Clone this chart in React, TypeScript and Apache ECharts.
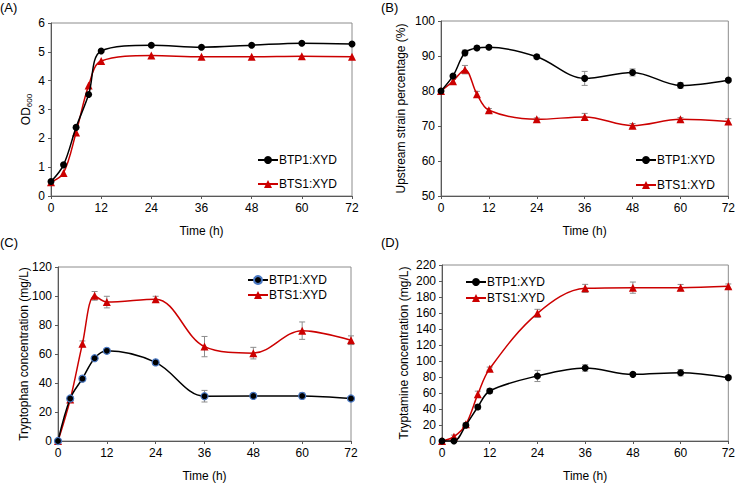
import React, { useEffect, useRef } from "react";
import * as echarts from "echarts";

const times = [0, 3, 6, 9, 12, 24, 36, 48, 60, 72];
const xTicks = [0, 12, 24, 36, 48, 60, 72];

// (A) OD600
const odBTP1 = [0.5, 1.08, 2.38, 3.52, 5.03, 5.23, 5.16, 5.23, 5.3, 5.27];
const odBTS1 = [0.48, 0.8, 2.2, 3.83, 4.68, 4.87, 4.83, 4.83, 4.85, 4.83];
const odBTP1Err = [0, 0, 0, 0, 0, 0, 0, 0, 0, 0];
const odBTS1Err = [0, 0, 0, 0, 0, 0, 0, 0, 0, 0];

// (B) Upstream strain percentage
const upBTP1 = [80, 84.3, 90.9, 92.3, 92.5, 89.8, 83.6, 85.3, 81.6, 83.1];
const upBTS1 = [80, 82.8, 86.1, 79.1, 74.5, 71.9, 72.6, 70.1, 71.9, 71.3];
const upBTP1Err = [0, 0, 0.8, 0.6, 0.5, 0.6, 2.0, 1.0, 0.8, 0.5];
const upBTS1Err = [0, 0.6, 1.2, 0.8, 0.5, 0.4, 1.0, 0.6, 0.5, 0.8];

// (C) Tryptophan concentration
const trpBTP1 = [0, 29.3, 43, 57.1, 62.2, 54.2, 30.9, 31.1, 31.1, 29.3];
const trpBTS1 = [0, 28.6, 67, 100.1, 95.8, 97.8, 65.1, 60.6, 76.1, 69.5];
const trpBTP1Err = [0, 1, 1.5, 1, 1.5, 1, 4, 1, 2, 1];
const trpBTS1Err = [0, 2, 2, 3, 4, 2, 7, 4, 6, 3];

// (D) Tryptamine concentration
const tamBTP1 = [0, 0, 19.6, 42.5, 62.5, 81.3, 91.3, 83.3, 85.4, 79.2];
const tamBTS1 = [0, 5.4, 20.8, 58.3, 90.4, 159.6, 190.8, 191.7, 191.7, 193.3];
const tamBTP1Err = [0, 0, 2, 3, 3, 7, 4, 2, 4, 2];
const tamBTS1Err = [0, 2, 2, 4, 2, 5, 5, 7, 4, 3];

const seriesNames = ["BTP1:XYD", "BTS1:XYD"];
const panelLabels = ["(A)", "(B)", "(C)", "(D)"];
const xAxisName = "Time (h)";

const FONT = "'Liberation Sans', Arial, sans-serif";
const BLACK = "#000000";
const RED = "#cc0000";

export default function App() {
  const ref = useRef<HTMLDivElement>(null);

  useEffect(() => {
    if (!ref.current) return;
    const chart = echarts.init(ref.current, undefined, { renderer: "svg" });

    const grids = [
      { left: 51, top: 23, width: 301, height: 173 },
      { left: 441, top: 21, width: 289, height: 175 },
      { left: 58, top: 267, width: 293, height: 175 },
      { left: 442, top: 265, width: 289, height: 176 },
    ];

    const yCfg = [
      { min: 0, max: 6, interval: 1, name: "{a|OD}{s|600}", gap: 18 },
      { min: 50, max: 100, interval: 10, name: "Upstream strain percentage (%)", gap: 34 },
      { min: 0, max: 120, interval: 20, name: "Tryptophan concentration (mg/L)", gap: 28 },
      { min: 0, max: 220, interval: 20, name: "Tryptamine concentration (mg/L)", gap: 32 },
    ];

    const panels = [
      [odBTP1, odBTS1, odBTP1Err, odBTS1Err],
      [upBTP1, upBTS1, upBTP1Err, upBTS1Err],
      [trpBTP1, trpBTS1, trpBTP1Err, trpBTS1Err],
      [tamBTP1, tamBTS1, tamBTP1Err, tamBTS1Err],
    ];

    const legendPos = [
      { left: 252, top: 149, gap: 12 },
      { left: 630, top: 149, gap: 13 },
      { left: 242, top: 269, gap: 3 },
      { left: 460, top: 271, gap: 4 },
    ];

    const series: any[] = [];
    const legends: any[] = [];
    panels.forEach((p, i) => {
      const [a, b, ea, eb] = p as number[][];
      const suffix = "#" + i;
      const errData = (vals: number[], errs: number[]) =>
        times
          .map((t, k) => [t, vals[k] - errs[k], vals[k] + errs[k], errs[k]])
          .filter((d) => d[3] > 0);
      const errSeries = (vals: number[], errs: number[]) => ({
        type: "custom",
        xAxisIndex: i,
        yAxisIndex: i,
        silent: true,
        z: 1,
        data: errData(vals, errs),
        renderItem: (params: any, api: any) => {
          const x = api.value(0);
          const lo = api.coord([x, api.value(1)]);
          const hi = api.coord([x, api.value(2)]);
          const w = 3;
          const st = { stroke: "#8c8c8c", lineWidth: 1, fill: "none" };
          return {
            type: "group",
            children: [
              { type: "line", shape: { x1: lo[0], y1: lo[1], x2: hi[0], y2: hi[1] }, style: st },
              { type: "line", shape: { x1: lo[0] - w, y1: lo[1], x2: lo[0] + w, y2: lo[1] }, style: st },
              { type: "line", shape: { x1: hi[0] - w, y1: hi[1], x2: hi[0] + w, y2: hi[1] }, style: st },
            ],
          };
        },
      });
      series.push(errSeries(a, ea));
      series.push(errSeries(b, eb));
      series.push({
        name: seriesNames[0] + suffix,
        type: "line",
        xAxisIndex: i,
        yAxisIndex: i,
        smooth: 0.35,
        z: 3,
        symbol: "circle",
        symbolSize: 7,
        data: times.map((t, k) => [t, a[k]]),
        lineStyle: { color: BLACK, width: 1.5 },
        itemStyle: {
          color: BLACK,
          borderColor: i === 2 ? "#4a78c2" : BLACK,
          borderWidth: i === 2 ? 1.2 : 0,
        },
      });
      series.push({
        name: seriesNames[1] + suffix,
        type: "line",
        xAxisIndex: i,
        yAxisIndex: i,
        smooth: 0.35,
        z: 2,
        symbol: "triangle",
        symbolSize: 8,
        data: times.map((t, k) => [t, b[k]]),
        lineStyle: { color: RED, width: 1.5 },
        itemStyle: { color: RED, borderWidth: 0 },
      });
      legends.push({
        orient: "vertical",
        left: legendPos[i].left,
        top: legendPos[i].top,
        itemGap: legendPos[i].gap,
        itemWidth: 20,
        itemHeight: 10,
        selectedMode: false,
        data: [seriesNames[0] + suffix, seriesNames[1] + suffix],
        formatter: (n: string) => n.split("#")[0],
        textStyle: { fontFamily: FONT, fontSize: 12, color: BLACK, padding: [0, 0, 0, -4] },
      });
    });

    const option: any = {
      animation: false,
      backgroundColor: "#ffffff",
      textStyle: { fontFamily: FONT },
      grid: grids.map((g) => ({
        ...g,
        show: true,
        borderColor: "#8c8c8c",
        borderWidth: 1,
        backgroundColor: "transparent",
        containLabel: false,
      })),
      xAxis: grids.map((_, i) => ({
        type: "value",
        gridIndex: i,
        min: 0,
        max: 72,
        interval: 12,
        name: xAxisName,
        nameLocation: "middle",
        nameGap: 29,
        nameMoveOverlap: false,
        nameTextStyle: { fontFamily: FONT, fontSize: 12, fontWeight: "normal", color: BLACK },
        axisLine: { show: true, lineStyle: { color: "#595959", width: 1 } },
        axisTick: { show: true, inside: false, length: 3, lineStyle: { color: "#595959" } },
        axisLabel: {
          fontFamily: FONT,
          fontSize: 12,
          color: BLACK,
          margin: 6,
          customValues: xTicks,
        },
        splitLine: { show: false },
      })),
      yAxis: yCfg.map((y, i) => ({
        type: "value",
        gridIndex: i,
        min: y.min,
        max: y.max,
        interval: y.interval,
        name: y.name,
        nameLocation: "middle",
        nameGap: y.gap,
        nameMoveOverlap: false,
        nameRotate: 90,
        nameTextStyle: {
          fontFamily: FONT,
          fontSize: 12,
          fontWeight: "normal",
          color: BLACK,
          rich: {
            a: { fontFamily: FONT, fontSize: 12, fontWeight: "normal", color: BLACK },
            s: { fontFamily: FONT, fontSize: 8, fontWeight: "normal", color: BLACK, padding: [7, 0, 0, 0] },
          },
        },
        axisLine: { show: true, lineStyle: { color: "#595959", width: 1 } },
        axisTick: { show: true, inside: false, length: 3, lineStyle: { color: "#595959" } },
        axisLabel: { fontFamily: FONT, fontSize: 12, color: BLACK, margin: 6 },
        splitLine: { show: false },
      })),
      legend: legends,
      series,
      graphic: [
        { type: "text", left: 0, top: 1, style: { text: panelLabels[0], font: `13px ${FONT}`, fill: BLACK } },
        { type: "text", left: 381, top: 1, style: { text: panelLabels[1], font: `13px ${FONT}`, fill: BLACK } },
        { type: "text", left: 0, top: 236, style: { text: panelLabels[2], font: `13px ${FONT}`, fill: BLACK } },
        { type: "text", left: 381, top: 236, style: { text: panelLabels[3], font: `13px ${FONT}`, fill: BLACK } },
      ],
    };

    chart.setOption(option);
    return () => chart.dispose();
  }, []);

  return (
    <div
      ref={ref}
      style={{ position: "absolute", left: 0, top: 0, width: 738, height: 483, background: "#fff" }}
    />
  );
}
